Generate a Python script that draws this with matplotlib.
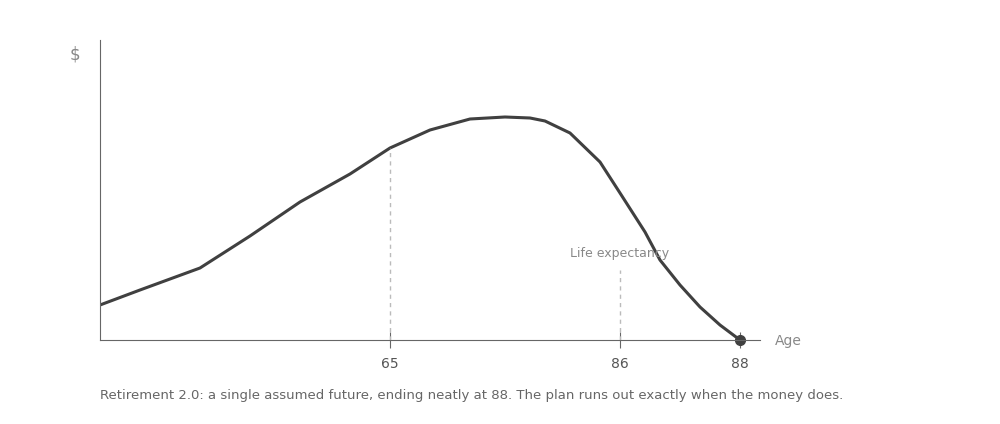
import matplotlib
matplotlib.use('Agg')
import matplotlib.pyplot as plt

# curve (x: position along axis, y: savings)
curve_x = [0, 40, 100, 150, 200, 250, 290, 330, 370, 405, 430, 445, 470, 500, 520, 545, 560, 580, 600, 620, 640]
curve_y = [35, 50, 72, 104, 138, 166, 192, 210, 221, 223, 222, 219, 207, 178, 147, 108, 80, 55, 33, 15, 0]
tick_pos = [290, 520, 640]
tick_labels = ['65', '86', '88']
retire_x, retire_y = 290, 192
life_x, life_top = 520, 70

fig = plt.figure(figsize=(10, 4.24), dpi=100)
ax = fig.add_axes([0.1, 84 / 424, 0.66, 300 / 424])
ax.set_xlim(0, 660)
ax.set_ylim(0, 300)

ax.plot(curve_x, curve_y, color='#404040', lw=2.2, solid_capstyle='round')
ax.plot([curve_x[-1]], [curve_y[-1]], 'o', color='#404040', ms=7, clip_on=False)
ax.plot([retire_x, retire_x], [0, retire_y], ls=(0, (3, 3)), color='#bbbbbb', lw=1)
ax.plot([life_x, life_x], [0, life_top], ls=(0, (3, 3)), color='#bbbbbb', lw=1)
ax.text(life_x, 86, 'Life expectancy', ha='center', va='center', fontsize=9, color='#888888')

for s in ['top', 'right']:
    ax.spines[s].set_visible(False)
ax.spines['left'].set_color('#666666')
ax.spines['bottom'].set_color('#666666')
ax.set_yticks([])
ax.set_xticks(tick_pos)
ax.set_xticklabels(tick_labels, fontsize=10, color='#555555')
ax.tick_params(axis='x', direction='inout', length=12, color='#666666', pad=6)

fig.text(0.075, 1 - 54 / 424, '$', ha='center', va='center', fontsize=12, color='#888888')
fig.text(0.775, 1 - 341 / 424, 'Age', ha='left', va='center', fontsize=10, color='#888888')
fig.text(0.1, 1 - 396 / 424,
         'Retirement 2.0: a single assumed future, ending neatly at 88. The plan runs out exactly when the money does.',
         ha='left', va='center', fontsize=9.5, color='#666666')

fig.savefig('out.png', dpi=100)
